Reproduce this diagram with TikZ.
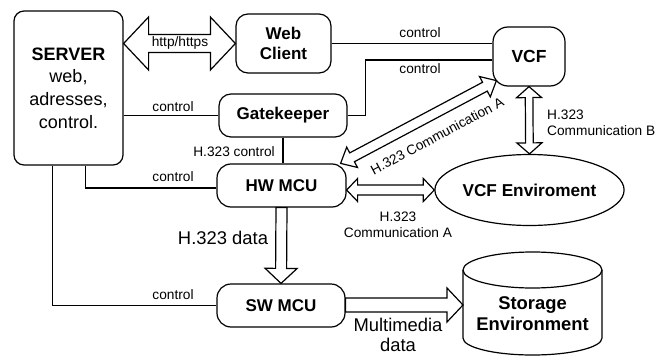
\documentclass[tikz,border=0pt]{standalone}
\usepackage{fontspec}
\setmainfont{Liberation Sans}
\usetikzlibrary{calc,shapes.geometric}
\tikzset{
  box/.style={draw, line width=1.2pt, inner sep=0pt, align=center,
    font=\bfseries\fontsize{17}{20.5}\selectfont},
  lbl/.style={inner sep=0pt, align=center, font=\fontsize{13.7}{16}\selectfont},
  biglbl/.style={inner sep=0pt, align=center, font=\fontsize{18.4}{20}\selectfont},
  conn/.style={draw, line width=1.2pt},
  fat/.style={draw, line width=1.2pt, fill=white, line join=miter},
}
% single hollow arrow: start, end, half shaft, half head, head length
\newcommand\fatone[5]{%
  \path (#1) coordinate (fs) (#2) coordinate (fe);
  \path ($(fe)!#5!(fs)$) coordinate (fh);
  \draw[fat] ($(fs)!#3!90:(fe)$) -- ($(fh)!#3!90:(fe)$) -- ($(fh)!#4!90:(fe)$) -- (fe)
    -- ($(fh)!#4!-90:(fe)$) -- ($(fh)!#3!-90:(fe)$) -- ($(fs)!#3!-90:(fe)$) -- cycle;}
% double hollow arrow
\newcommand\fattwo[5]{%
  \path (#1) coordinate (fs) (#2) coordinate (fe);
  \path ($(fs)!#5!(fe)$) coordinate (fa) ($(fe)!#5!(fs)$) coordinate (fb);
  \draw[fat] (fs) -- ($(fa)!#4!90:(fe)$) -- ($(fa)!#3!90:(fe)$) -- ($(fb)!#3!90:(fe)$)
    -- ($(fb)!#4!90:(fe)$) -- (fe) -- ($(fb)!#4!-90:(fe)$) -- ($(fb)!#3!-90:(fe)$)
    -- ($(fa)!#3!-90:(fe)$) -- ($(fa)!#4!-90:(fe)$) -- cycle;}
\begin{document}
\begin{tikzpicture}[x=1pt, y=-1pt]
\fill[white] (0,0) rectangle (667,356);
\useasboundingbox (0,0) rectangle (667,356);

% nodes
\node[box, rounded corners=10pt, minimum width=109pt, minimum height=154pt,
  font=\fontsize{18}{22.7}\selectfont] (server) at (68.5,88)
  {\textbf{SERVER}\\web,\\adresses,\\control.};
\node[box, rounded corners=12pt, minimum width=95pt, minimum height=59pt] (web) at (283.5,43.5) {Web\\Client};
\node[box, rounded corners=12pt, minimum width=128pt, minimum height=43pt] (gate) at (283,115.5) {Gatekeeper};
\node[box, rounded corners=14pt, minimum width=129pt, minimum height=43pt] (hw) at (281.5,185.5) {HW MCU};
\node[box, rounded corners=14pt, minimum width=128pt, minimum height=43pt] (sw) at (281,305.5) {SW MCU};
\node[box, rounded corners=15pt, minimum width=72pt, minimum height=59pt,
  font=\bfseries\fontsize{17.5}{20}\selectfont] (vcf) at (529,56.5) {VCF};
\node[box, ellipse, minimum width=185pt, minimum height=71pt,
  font=\bfseries\fontsize{17.2}{20}\selectfont] (env) at (529.5,190) {VCF Enviroment};

% storage cylinder
\draw[conn] (463,270) -- (463,338) arc[start angle=180, end angle=360, x radius=69.5pt, y radius=17pt] -- (602,270);
\draw[conn] (532.5,270) ellipse[x radius=69.5pt, y radius=18pt];
\node[inner sep=0pt, align=center, font=\bfseries\fontsize{18.4}{21}\selectfont] (storage) at (532.5,313.5) {Storage\\Environment};
\coordinate (stw) at (463,305);

% plain connectors
\draw[conn] (web.east) -- (vcf.west |- web.east);
\draw[conn] (gate.east) -- ++(18,0) |- ($(vcf.west)+(0,3.5)$);
\draw[conn] (server.east |- gate.west) -- (gate.west);
\draw[conn] (gate.south) -- (gate.south |- hw.north);
\draw[conn] ($(server.south west)+(72,0)$) |- ($(hw.west)+(0,2.5)$);
\draw[conn] ($(server.south west)+(39,0)$) |- (sw.west);

% fat arrows
\fattwo{server.east |- web.west}{web.west}{9pt}{26.5pt}{25pt}
\fatone{hw.south}{sw.north}{5.5pt}{16pt}{15pt}
\fattwo{hw.east |- env.west}{env.west}{5pt}{11.5pt}{11pt}
\fattwo{$(hw.north east)+(-6,0)$}{$(vcf.south west)+(4,-6)$}{5pt}{11.5pt}{13pt}
\fattwo{vcf.south}{env.north}{3.8pt}{12.5pt}{11pt}
\fatone{sw.east |- stw}{stw}{7pt}{17pt}{16pt}

% labels
\node[lbl] (l1) at (180,43) {http/https};
\node[lbl] (l2) at (420,33) {control};
\node[lbl] (l3) at (420,69) {control};
\node[lbl] (l4) at (173,107) {control};
\node[lbl] (l5) at (173,177) {control};
\node[lbl] (l6) at (173,295) {control};
\node[lbl, anchor=east] (l7) at (275,152) {H.323 control};
\node[lbl, align=left, anchor=west] (l8) at (547,123) {H.323\\Communication B};
\node[lbl] (l9) at (398,225) {H.323\\Communication A};
\node[lbl, rotate=28] (l10) at (437,136) {H.323 Communication A};
\node[biglbl] (l11) at (223,238) {H.323 data};
\node[biglbl] (l12) at (398,335) {Multimedia\\data};
\end{tikzpicture}
\end{document}
